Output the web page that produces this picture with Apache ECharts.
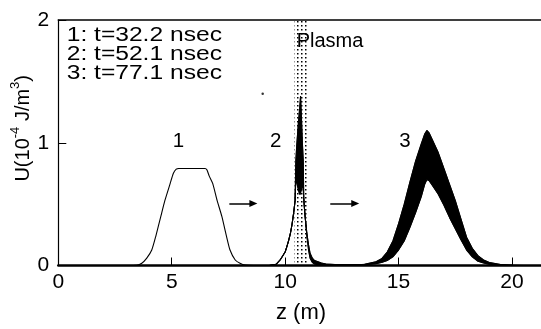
<!DOCTYPE html>
<html><head><meta charset="utf-8">
<script src="https://cdn.jsdelivr.net/npm/echarts@6/dist/echarts.min.js"></script>
<style>html,body{margin:0;padding:0;background:#fff}#c{width:541px;height:329px}</style>
</head><body><div id="c"></div>
<script>
// ---- data ----
const xTickStep = 5;
const yTickStep = 1;
const xRange = [0, 21.28];
const yRange = [0, 2];

// curve 1 (t=32.2 nsec) – single line
const c1x = [3.0, 3.46, 3.68, 3.9, 4.12, 4.3, 4.52, 4.7, 4.93, 5.07, 5.2, 5.31, 6.47, 6.55, 6.65, 6.81, 7.0, 7.21, 7.4, 7.57, 7.8, 8.01, 8.24, 8.6];
const c1y = [0, 0.002, 0.018, 0.06, 0.126, 0.24, 0.40, 0.53, 0.667, 0.75, 0.785, 0.79, 0.79, 0.78, 0.73, 0.667, 0.53, 0.40, 0.25, 0.126, 0.045, 0.018, 0.003, 0];

// curve 2 (t=52.1 nsec) – oscillation envelope inside the plasma
const c2x  = [9.3, 9.6, 9.78, 10.0, 10.07, 10.15, 10.23, 10.3, 10.37, 10.44, 10.47, 10.52, 10.58, 10.64, 10.68, 10.72, 10.76, 10.8, 10.82, 10.87, 10.96, 11.03, 11.1, 11.2, 11.3, 11.45, 11.6, 11.8, 12.2, 12.8, 13.3];
const c2up = [0, 0.01, 0.045, 0.11, 0.15, 0.2, 0.26, 0.33, 0.42, 0.53, 0.85, 1.0, 1.15, 1.28, 1.38, 1.2, 1.0, 0.85, 0.55, 0.42, 0.26, 0.17, 0.1, 0.06, 0.04, 0.03, 0.02, 0.012, 0.008, 0.006, 0.005];
const c2lo = [0, 0.01, 0.045, 0.11, 0.15, 0.2, 0.26, 0.33, 0.42, 0.53, 0.70, 0.67, 0.62, 0.58, 0.58, 0.62, 0.66, 0.62, 0.55, 0.42, 0.24, 0.13, 0.06, 0.025, 0.012, 0.007, 0.005, 0.004, 0.004, 0.004, 0.004];

// curve 3 (t=77.1 nsec) – oscillation envelope after the plasma
const c3x  = [13.0, 13.5, 14.0, 14.25, 14.5, 14.75, 15.0, 15.25, 15.5, 15.75, 16.0, 16.15, 16.25, 16.35, 16.5, 16.75, 17.0, 17.25, 17.5, 17.75, 18.0, 18.25, 18.5, 18.75, 19.0, 19.5, 20.0, 20.5];
const c3up = [0.003, 0.01, 0.03, 0.055, 0.11, 0.2, 0.34, 0.5, 0.68, 0.85, 0.99, 1.07, 1.10, 1.08, 1.02, 0.92, 0.79, 0.66, 0.53, 0.38, 0.23, 0.14, 0.08, 0.045, 0.025, 0.008, 0.002, 0];
const c3lo = [0.002, 0.006, 0.015, 0.025, 0.04, 0.07, 0.126, 0.2, 0.31, 0.43, 0.56, 0.66, 0.70, 0.69, 0.65, 0.58, 0.49, 0.39, 0.30, 0.21, 0.126, 0.07, 0.035, 0.02, 0.01, 0.004, 0.001, 0];

const plasmaRange = [10.4, 11.05];
const arrowStarts = [[7.54, 0.505], [11.99, 0.505]];
const arrowEnds   = [[8.6, 0.505], [13.09, 0.505]];
const strayDot = [[9.01, 1.40]];
const legendLines = ['1: t=32.2 nsec', '2: t=52.1 nsec', '3: t=77.1 nsec'];
const curveLabels = ['1', '2', '3'];
const plasmaLabel = 'Plasma';
const xName = 'z (m)';

// ---- build ----
const zip = (xs, ys) => xs.map((x, i) => [x, ys[i]]);

const pc = document.createElement('canvas');
pc.width = 4; pc.height = 4;
const g = pc.getContext('2d');
g.fillStyle = '#000';
g.fillRect(1, 1, 1.5, 1.5);

const FONT = '"Liberation Sans", Arial, Helvetica, sans-serif';
const black = '#000';
const lineBase = { type: 'line', showSymbol: false, symbol: 'none', silent: true, z: 4,
  lineStyle: { color: black, width: 1.1 }, itemStyle: { color: black } };

function bandSeries(xs, up, lo) {
  return {
    type: 'custom', silent: true, z: 3, clip: true,
    data: [[xs[0], up[0]]],
    renderItem: function (params, api) {
      const pts = xs.map((x, i) => api.coord([x, up[i]]));
      for (let i = xs.length - 1; i >= 0; i--) pts.push(api.coord([xs[i], lo[i]]));
      return { type: 'polygon', shape: { points: pts, smooth: 0 }, style: { fill: black, stroke: black, lineWidth: 0.8 } };
    }
  };
}

const chart = echarts.init(document.getElementById('c'), null, { renderer: 'canvas' });
chart.setOption({
  animation: false,
  backgroundColor: '#fff',
  grid: { left: 58.3, top: 20, right: 0, bottom: 63.5, show: false },
  xAxis: [{
    type: 'value', min: xRange[0], max: xRange[1], interval: xTickStep,
    axisLine: { show: true, onZero: false, lineStyle: { color: black, width: 2.5 } },
    axisTick: { show: true, inside: true, length: 8, lineStyle: { color: black, width: 1 } },
    axisLabel: { color: black, fontFamily: FONT, fontSize: 21, margin: 6, showMaxLabel: false },
    splitLine: { show: false }
  }, {
    type: 'value', position: 'top', min: xRange[0], max: xRange[1],
    axisLine: { show: true, onZero: false, lineStyle: { color: black, width: 1.6 } },
    axisTick: { show: false }, axisLabel: { show: false }, splitLine: { show: false }
  }],
  yAxis: {
    type: 'value', min: yRange[0], max: yRange[1], interval: yTickStep,
    axisLine: { show: true, onZero: false, lineStyle: { color: black, width: 1.2 } },
    axisTick: { show: true, inside: true, length: 8, lineStyle: { color: black, width: 1 } },
    axisLabel: { color: black, fontFamily: FONT, fontSize: 21, margin: 9 },
    splitLine: { show: false }
  },
  series: [
    { type: 'line', data: [], silent: true, z: 1,
      markArea: { silent: true, z: 1, itemStyle: { color: { image: pc, repeat: 'repeat' }, borderWidth: 0 },
        data: [[{ xAxis: plasmaRange[0] }, { xAxis: plasmaRange[1] }]] } },
    Object.assign({}, lineBase, { name: 'c1', data: zip(c1x, c1y), smooth: 0.2,
      markLine: { silent: true, symbol: ['none', 'triangle'], symbolSize: [7, 8], label: { show: false },
        lineStyle: { color: black, width: 1.5, type: 'solid' },
        data: arrowStarts.map((s, i) => [{ coord: s }, { coord: arrowEnds[i] }]) } }),
    bandSeries(c2x, c2up, c2lo),
    Object.assign({}, lineBase, { name: 'c2up', data: zip(c2x, c2up) }),
    Object.assign({}, lineBase, { name: 'c2lo', data: zip(c2x, c2lo) }),
    bandSeries(c3x, c3up, c3lo),
    Object.assign({}, lineBase, { name: 'c3up', data: zip(c3x, c3up) }),
    Object.assign({}, lineBase, { name: 'c3lo', data: zip(c3x, c3lo) }),
    { type: 'scatter', data: strayDot, symbolSize: 2.5, itemStyle: { color: black }, silent: true, z: 4 }
  ],
  graphic: [
    ...legendLines.map((t, i) => ({ type: 'text', x: 66.7, y: 35 + i * 19, scaleX: 1.2, z: 10,
      style: { text: t, font: '20.5px ' + FONT, fill: black, textAlign: 'left', textVerticalAlign: 'middle', align: 'left', verticalAlign: 'middle' } })),
    { type: 'text', x: 330, y: 41, z: 10,
      style: { text: plasmaLabel, font: '20px ' + FONT, fill: black, textAlign: 'center', textVerticalAlign: 'middle', align: 'center', verticalAlign: 'middle' } },
    ...curveLabels.map((t, i) => ({ type: 'text', x: [178.5, 275.8, 405][i], y: 141.5, z: 10,
      style: { text: t, font: '20.5px ' + FONT, fill: black, textAlign: 'center', textVerticalAlign: 'middle', align: 'center', verticalAlign: 'middle' } })),
    { type: 'text', x: 301, y: 312.5, z: 10,
      style: { text: xName, font: '22px ' + FONT, fill: black, textAlign: 'center', textVerticalAlign: 'middle', align: 'center', verticalAlign: 'middle' } },
    { type: 'text', x: 23, y: 128.3, rotation: Math.PI / 2, z: 10,
      style: { text: '{a|U(10}{s|-4}{a| J/m}{s|3}{a|)}', fill: black, textAlign: 'center', textVerticalAlign: 'middle', align: 'center', verticalAlign: 'middle',
        rich: { a: { fontFamily: FONT, fontSize: 20, lineHeight: 28, verticalAlign: 'middle', fill: black },
                s: { fontFamily: FONT, fontSize: 13, lineHeight: 13, verticalAlign: 'top', fill: black } } } }
  ]
});
</script></body></html>
